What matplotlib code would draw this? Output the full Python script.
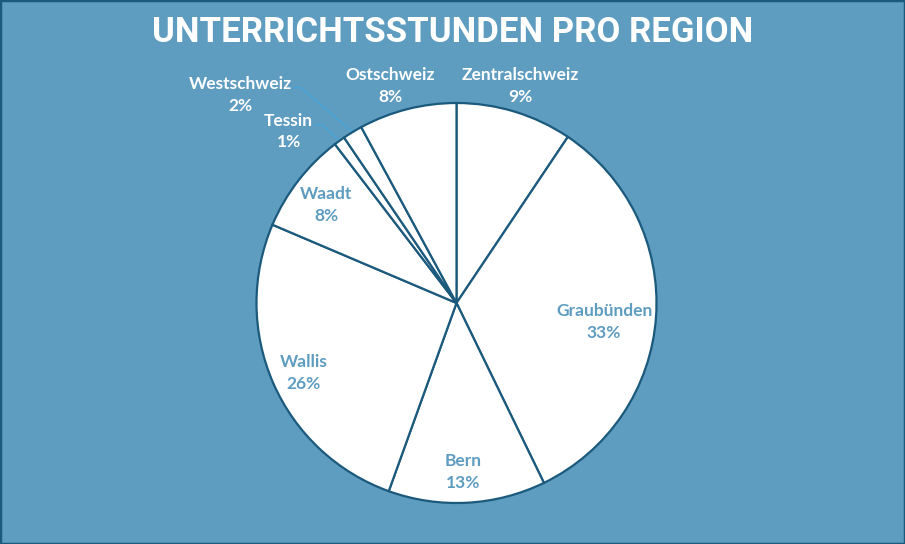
import numpy as np
import matplotlib.pyplot as plt
from matplotlib.patches import Rectangle

regionen = ["Zentralschweiz", "Graubünden", "Bern", "Wallis", "Waadt",
            "Tessin", "Westschweiz", "Ostschweiz"]
stunden = [9.4, 33.4, 12.7, 25.9, 8.2, 0.9, 1.6, 7.9]

bg = "#5e9cc0"
dunkel = "#1b5a7c"
hell = "#45a9de"

# Beschriftung: (Radius-Faktor, Winkel im Uhrzeigersinn ab oben), innen?, Fuehrungslinie?
lab_pos = [(1.13, 16.3), (0.744, 97.3), (0.846, 177.8), (0.84, 245.3),
           (0.816, 306.9), (1.2, 315.6), (1.5, 314.0), (1.135, 343.0)]
innen = [False, True, True, True, True, False, False, False]
linie = [False, False, False, False, False, True, True, False]

fig = plt.figure(figsize=(9.05, 5.44), dpi=100)
fig.patch.set_facecolor(bg)
ax = fig.add_axes([0, 0, 1, 1])

cx, cy, r = 456.5, 241, 200
wedges, _ = ax.pie(stunden, startangle=90, counterclock=False, center=(cx, cy),
                   radius=r, frame=True,
                   wedgeprops=dict(facecolor="white", edgecolor=dunkel, linewidth=1.6))
ax.set_xlim(0, 905)
ax.set_ylim(0, 544)
ax.axis("off")

total = sum(stunden)
texte = []
for i, w in enumerate(wedges):
    fak, grad = lab_pos[i]
    ang = np.deg2rad(90 - grad)
    tx = cx + r * fak * np.cos(ang)
    ty = cy + r * fak * np.sin(ang)
    pct = stunden[i] / total * 100
    farbe = bg if innen[i] else "white"
    t = ax.text(tx, ty, f"{regionen[i]}\n{pct:.0f}%", ha="center", va="center",
                color=farbe, fontsize=12.5, fontweight="bold", family="Lato",
                linespacing=1.45)
    texte.append(t)

fig.canvas.draw()
inv = ax.transData.inverted()
for i, w in enumerate(wedges):
    if not linie[i]:
        continue
    mitte = np.deg2rad((w.theta1 + w.theta2) / 2)
    ex = cx + r * np.cos(mitte)
    ey = cy + r * np.sin(mitte)
    bb = texte[i].get_window_extent()
    x0, y0 = inv.transform((bb.x1 + 3, bb.y1 - 0.32 * bb.height))
    ax.plot([x0, x0 + 6, ex], [y0, y0, ey], color=hell, lw=0.9, zorder=0.5)

fig.text(0.5, 0.941, "UNTERRICHTSSTUNDEN PRO REGION", ha="center", va="center",
         color="white", fontsize=25, fontweight="bold", family="Roboto")

fig.patches.append(Rectangle((0, 0), 1, 1, transform=fig.transFigure, fill=False,
                             edgecolor=dunkel, linewidth=2.5))

plt.savefig("out.png", dpi=100, facecolor=bg)
